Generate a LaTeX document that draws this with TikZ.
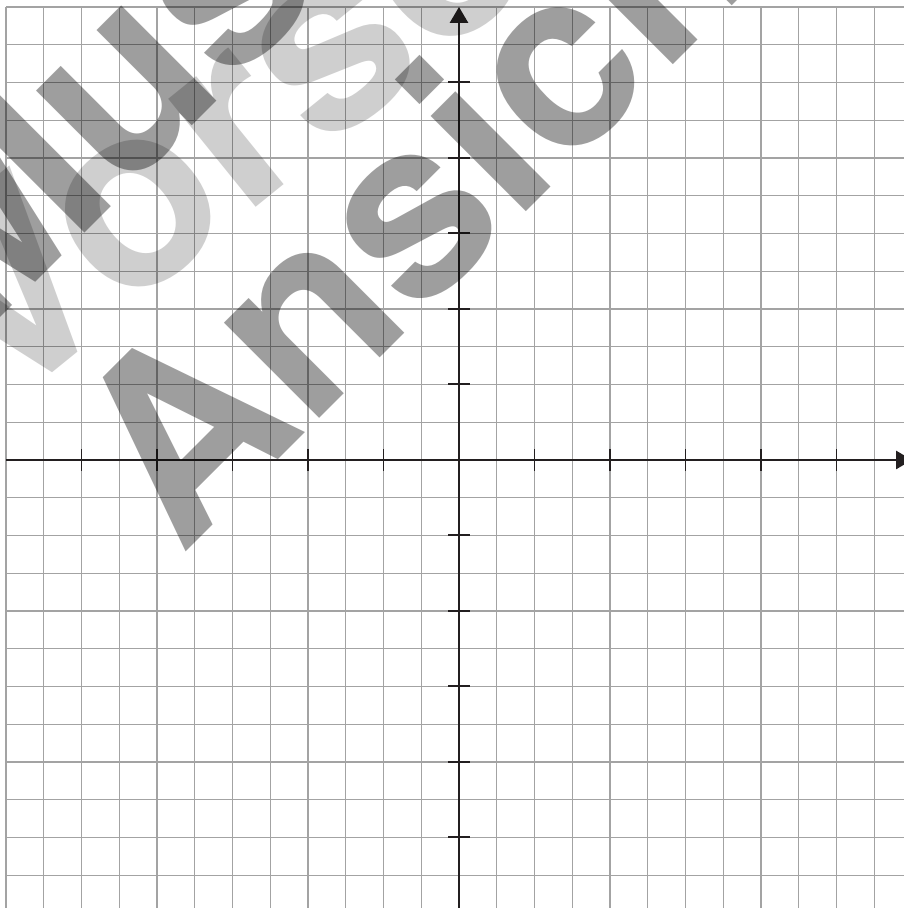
\documentclass[tikz,border=0pt]{standalone}
\usepackage{fontspec}
\newfontfamily\wmfont{TeX Gyre Heros}
\usetikzlibrary{arrows.meta}
\definecolor{gridgray}{gray}{0.64}
\definecolor{axisblack}{RGB}{35,31,32}
\begin{document}
\begin{tikzpicture}[x=1cm,y=1cm,
  gridline/.style={draw=gridgray, line width=1pt},
  axisline/.style={draw=axisblack, line width=1.5pt, -{Triangle[length=4.2mm,width=4.8mm]}},
  tickmark/.style={draw=axisblack, line width=1.5pt},
  wmbase/.style={inner sep=0pt, outer sep=0pt, anchor=base west},
  wmdark/.style={wmbase, text=black, text opacity=0.38,
    font=\wmfont\bfseries\fontsize{188}{188}\selectfont},
  wmlight/.style={wmbase, text=black, text opacity=0.19,
    font=\wmfont\bfseries\fontsize{194}{194}\selectfont}]
\useasboundingbox (-12.159,-11.868) rectangle (11.788,12.185);
\clip (-12.159,-11.868) rectangle (11.788,12.185);
% grid
\draw[gridline] (-12,-12) grid (12,12);
% axes
\coordinate (xs) at (-12,0);
\coordinate (xe) at (12,0);
\coordinate (ys) at (0,-12);
\coordinate (ye) at (0,12);
\draw[axisline] (xs) -- (xe);
\draw[axisline] (ys) -- (ye);
\foreach \t in {-10,-8,-6,-4,-2,2,4,6,8,10}{
  \draw[tickmark] (\t,-0.29) -- (\t,0.29);
  \draw[tickmark] (-0.29,\t) -- (0.29,\t);
}
% watermark
\node[wmlight, rotate=39] (wmv) at (-12.21,1.139) {Vorschau};
\node[wmdark, rotate=45] (wmm) at (-12.83,3.086) {Muster};
\node[wmdark, rotate=45] (wma) at (-7.35,-2.556) {Ansicht};
\end{tikzpicture}
\end{document}
